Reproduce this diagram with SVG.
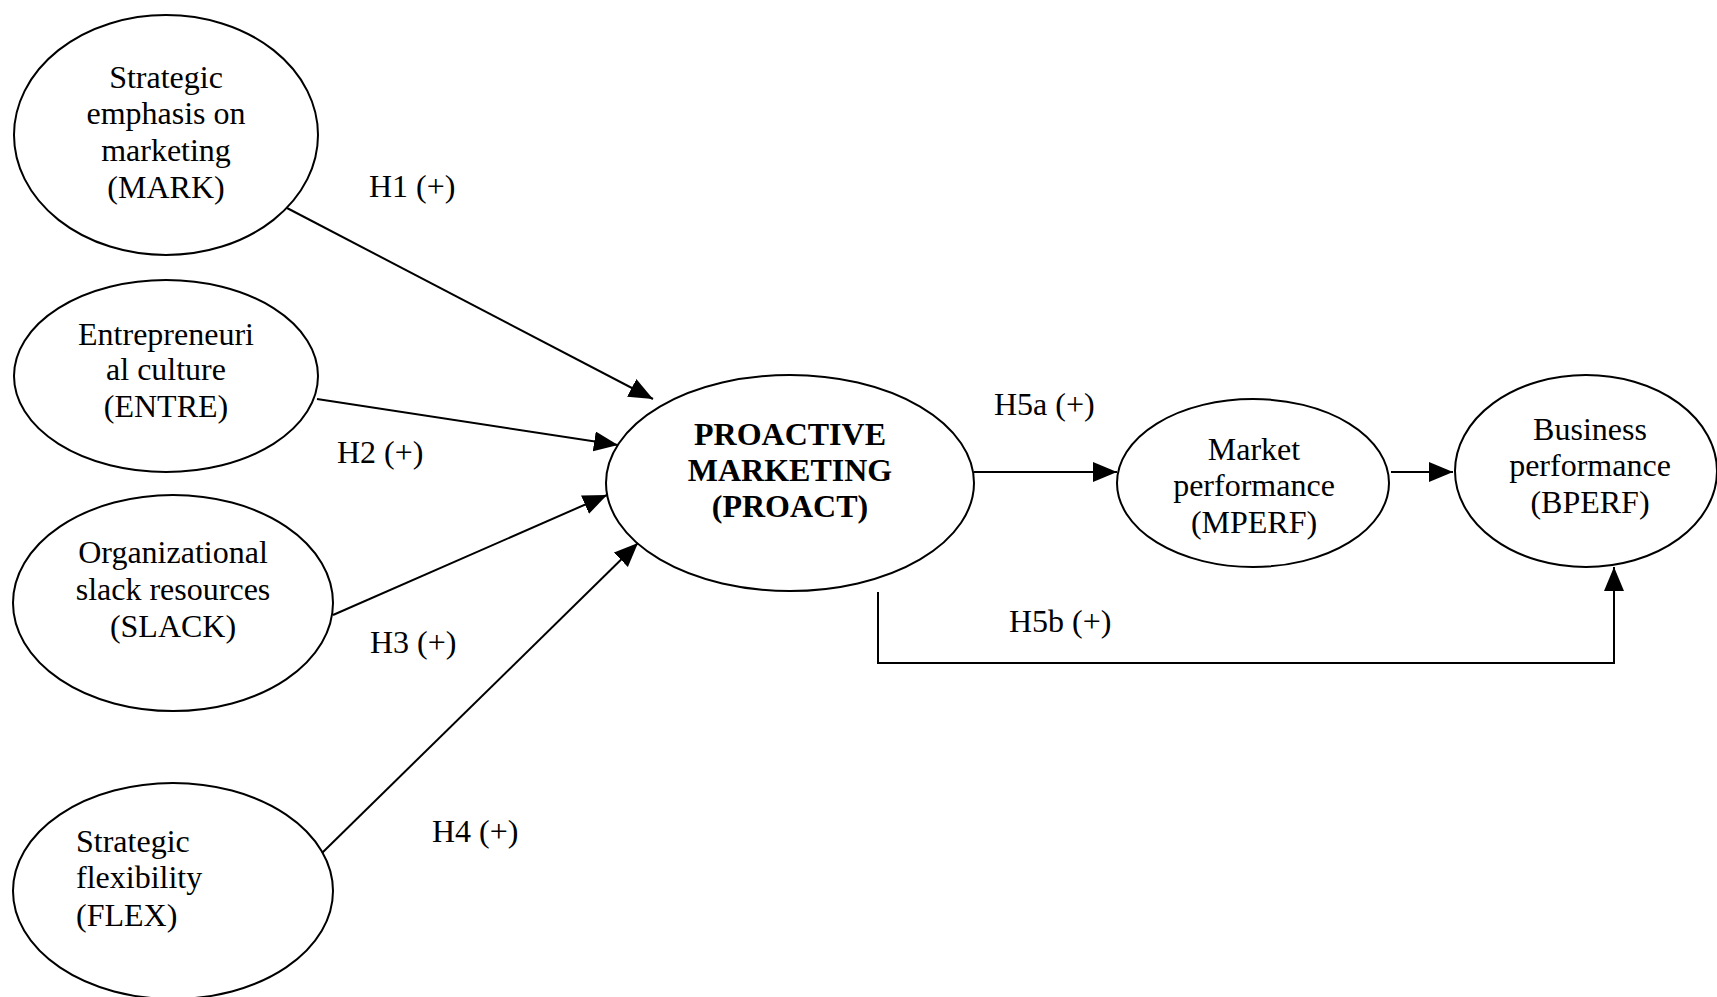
<svg xmlns="http://www.w3.org/2000/svg" width="1717" height="997" viewBox="0 0 1717 997">
<style>
.node ellipse{fill:#fff;stroke:#000;stroke-width:2}
.t{font-family:"Liberation Serif","Times New Roman",serif;font-size:32px;fill:#000}
.c{text-anchor:middle}
.b{font-weight:bold;font-size:32px}
.conn line,.conn polyline{stroke:#000;stroke-width:2;fill:none}
</style>
<defs>
<marker id="arr" markerUnits="userSpaceOnUse" markerWidth="26" markerHeight="22" refX="24" refY="10" orient="auto">
<path d="M0,0 L24,10 L0,20 z" fill="#000"/>
</marker>
</defs>
<rect width="1717" height="997" fill="#fff"/>
<g id="MARK" class="node">
<ellipse cx="166" cy="135" rx="152" ry="120"/>
<text class="t c" x="166" y="88">Strategic</text>
<text class="t c" x="166" y="124">emphasis on</text>
<text class="t c" x="166" y="161">marketing</text>
<text class="t c" x="166" y="198">(MARK)</text>
</g>
<g id="ENTRE" class="node">
<ellipse cx="166" cy="376" rx="152" ry="96"/>
<text class="t c" x="166" y="345">Entrepreneuri</text>
<text class="t c" x="166" y="380">al culture</text>
<text class="t c" x="166" y="417">(ENTRE)</text>
</g>
<g id="SLACK" class="node">
<ellipse cx="173" cy="603" rx="160" ry="108"/>
<text class="t c" x="173" y="563">Organizational</text>
<text class="t c" x="173" y="600">slack resources</text>
<text class="t c" x="173" y="637">(SLACK)</text>
</g>
<g id="FLEX" class="node">
<ellipse cx="173" cy="891" rx="160" ry="108"/>
<text class="t" x="76" y="852">Strategic</text>
<text class="t" x="76" y="888">flexibility</text>
<text class="t" x="76" y="926">(FLEX)</text>
</g>
<g id="PROACT" class="node">
<ellipse cx="790" cy="483" rx="184" ry="108"/>
<text class="t c b" x="790" y="445">PROACTIVE</text>
<text class="t c b" x="790" y="481">MARKETING</text>
<text class="t c b" x="790" y="517">(PROACT)</text>
</g>
<g id="MPERF" class="node">
<ellipse cx="1253" cy="483" rx="136" ry="84"/>
<text class="t c" x="1254" y="460">Market</text>
<text class="t c" x="1254" y="496">performance</text>
<text class="t c" x="1254" y="533">(MPERF)</text>
</g>
<g id="BPERF" class="node">
<ellipse cx="1586" cy="471" rx="131" ry="96"/>
<text class="t c" x="1590" y="440">Business</text>
<text class="t c" x="1590" y="476">performance</text>
<text class="t c" x="1590" y="513">(BPERF)</text>
</g>
<g id="connectors" class="conn">
<line x1="287" y1="208" x2="653" y2="399" marker-end="url(#arr)"/>
<line x1="317" y1="399" x2="618" y2="445" marker-end="url(#arr)"/>
<line x1="333" y1="615" x2="607" y2="495" marker-end="url(#arr)"/>
<line x1="322" y1="853" x2="638" y2="543" marker-end="url(#arr)"/>
<line x1="974" y1="472" x2="1117" y2="472" marker-end="url(#arr)"/>
<line x1="1391" y1="472" x2="1453" y2="472" marker-end="url(#arr)"/>
<polyline points="878,592 878,663 1614,663 1614,567" marker-end="url(#arr)"/>
</g>
<g id="labels">
<text class="t" x="369" y="197">H1 (+)</text>
<text class="t" x="337" y="463">H2 (+)</text>
<text class="t" x="370" y="653">H3 (+)</text>
<text class="t" x="432" y="842">H4 (+)</text>
<text class="t" x="994" y="415">H5a (+)</text>
<text class="t" x="1009" y="632">H5b (+)</text>
</g>
</svg>
